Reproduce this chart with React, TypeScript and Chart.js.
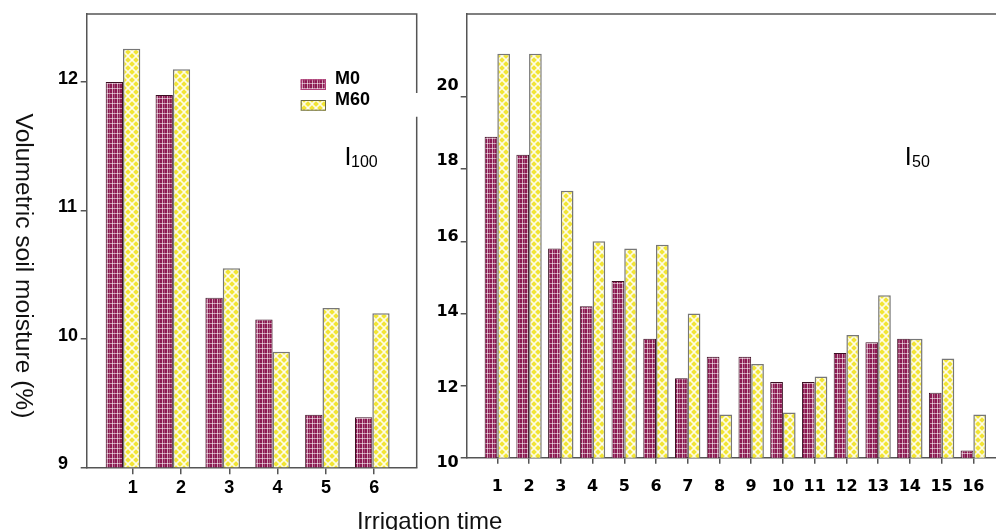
import React, { useEffect, useRef } from 'react';
import { Chart, registerables } from 'chart.js';

Chart.register(...registerables);

// ---- data ----
const irrigationI100 = [1, 2, 3, 4, 5, 6];
const m0I100 = [12.0, 11.9, 10.32, 10.15, 9.41, 9.39];
const m60I100 = [12.26, 12.1, 10.55, 9.9, 10.24, 10.2];
const yTicksI100 = [9, 10, 11, 12];

const irrigationI50 = [1, 2, 3, 4, 5, 6, 7, 8, 9, 10, 11, 12, 13, 14, 15, 16];
const m0I50 = [18.9, 18.4, 15.8, 14.2, 14.9, 13.3, 12.2, 12.8, 12.8, 12.1, 12.1, 12.9, 13.2, 13.3, 11.8, 10.2];
const m60I50 = [21.2, 21.2, 17.4, 16.0, 15.8, 15.9, 14.0, 11.2, 12.6, 11.25, 12.25, 13.4, 14.5, 13.3, 12.75, 11.2];
const yTicksI50 = [10, 12, 14, 16, 18, 20];

const seriesNames = ['M0', 'M60'];
const panelI100 = ['I', '100'];
const panelI50 = ['I', '50'];
const yTitle = 'Volumetric soil moisture (%)';
const xTitle = 'Irrigation time';

const AXIS = '#555555';
const SANS = '"Liberation Sans", Arial, sans-serif';
const DEJA = '"DejaVu Sans", sans-serif';

function makeM0Pattern(): CanvasPattern | string {
  const c = document.createElement('canvas');
  c.width = 5;
  c.height = 5;
  const g = c.getContext('2d');
  if (!g) return '#9b2a62';
  g.fillStyle = '#8c1a52';
  g.fillRect(0, 0, 5, 5);
  g.fillStyle = 'rgba(255,255,255,0.6)';
  g.fillRect(2, 0, 1, 5);
  g.fillStyle = 'rgba(255,255,255,0.55)';
  g.fillRect(0, 3, 5, 1);
  g.fillStyle = 'rgba(255,255,255,0.25)';
  g.fillRect(4, 0, 1, 5);
  return g.createPattern(c, 'repeat') || '#9b2a62';
}

function makeM60Pattern(): CanvasPattern | string {
  const c = document.createElement('canvas');
  c.width = 8;
  c.height = 8;
  const g = c.getContext('2d');
  if (!g) return '#f4ee80';
  g.fillStyle = '#f2e534';
  g.fillRect(0, 0, 8, 8);
  g.strokeStyle = 'rgba(255,255,255,0.85)';
  g.lineWidth = 1.6;
  for (const o of [-8, 0, 8]) {
    g.beginPath();
    g.moveTo(o, 0);
    g.lineTo(o + 8, 8);
    g.stroke();
    g.beginPath();
    g.moveTo(o + 8, 0);
    g.lineTo(o, 8);
    g.stroke();
  }
  return g.createPattern(c, 'repeat') || '#f4ee80';
}

function drawPanelLabel(ctx: CanvasRenderingContext2D, parts: string[], x: number, subX: number) {
  ctx.save();
  ctx.fillStyle = '#000';
  ctx.textAlign = 'left';
  ctx.textBaseline = 'alphabetic';
  ctx.font = `25px ${SANS}`;
  ctx.fillText(parts[0], x, 165);
  ctx.font = `16px ${SANS}`;
  ctx.fillText(parts[1], subX, 166.5);
  ctx.restore();
}

export default function App() {
  const leftRef = useRef<HTMLCanvasElement>(null);
  const rightRef = useRef<HTMLCanvasElement>(null);

  useEffect(() => {
    if (!leftRef.current || !rightRef.current) return;
    const m0Fill = makeM0Pattern();
    const m60Fill = makeM60Pattern();

    const gridOpts = (len: number) => ({
      display: true,
      drawOnChartArea: false,
      drawTicks: true,
      offset: false,
      tickLength: len,
      color: AXIS,
      lineWidth: 1.5,
    });
    const borderOpts = { display: true, color: AXIS, width: 1.5 };

    const leftDecor = {
      id: 'leftDecor',
      afterDraw(chart: any) {
        const { ctx, chartArea } = chart;
        ctx.save();
        ctx.strokeStyle = AXIS;
        ctx.lineWidth = 1.5;
        ctx.beginPath();
        ctx.moveTo(chartArea.left, chartArea.top);
        ctx.lineTo(chartArea.right, chartArea.top);
        ctx.lineTo(chartArea.right, 93);
        ctx.moveTo(chartArea.right, 116.7);
        ctx.lineTo(chartArea.right, chartArea.bottom);
        ctx.stroke();
        chart.data.datasets.forEach((d: any, i: number) => {
          const bx = 300.7;
          const by = 79.3 + i * 20.7;
          ctx.fillStyle = d.backgroundColor;
          ctx.fillRect(bx, by, 25.3, 10.7);
          ctx.strokeStyle = i === 0 ? '#b0407a' : '#6a6a40';
          ctx.lineWidth = 1;
          ctx.strokeRect(bx + 0.5, by + 0.5, 24.3, 9.7);
          ctx.fillStyle = '#000';
          ctx.font = `bold 18px ${SANS}`;
          ctx.textAlign = 'left';
          ctx.textBaseline = 'alphabetic';
          ctx.fillText(d.label, 335, by + 5);
        });
        ctx.translate(16, 266);
        ctx.rotate(Math.PI / 2);
        ctx.fillStyle = '#111';
        ctx.font = `24.6px ${SANS}`;
        ctx.textAlign = 'center';
        ctx.textBaseline = 'alphabetic';
        ctx.fillText(yTitle, 0, 0);
        ctx.restore();
        drawPanelLabel(ctx, panelI100, 344.4, 351);
      },
    };

    const rightDecor = {
      id: 'rightDecor',
      afterDraw(chart: any) {
        const { ctx, chartArea } = chart;
        ctx.save();
        ctx.strokeStyle = AXIS;
        ctx.lineWidth = 1.5;
        ctx.beginPath();
        ctx.moveTo(chartArea.left, chartArea.top);
        ctx.lineTo(chartArea.right, chartArea.top);
        ctx.stroke();
        ctx.restore();
        drawPanelLabel(ctx, panelI50, 474.7, 482);
      },
    };

    const barStyle = (i: number) =>
      i === 0
        ? { backgroundColor: m0Fill, borderColor: '#3a0f22', borderWidth: 1 }
        : { backgroundColor: m60Fill, borderColor: '#777777', borderWidth: 1.5 };

    const left = new Chart(leftRef.current, {
      type: 'bar',
      data: {
        datasets: [m0I100, m60I100].map((vals, i) => ({
          label: seriesNames[i],
          data: irrigationI100.map((t, k) => ({ x: t, y: vals[k] })),
          xAxisID: 'x',
          yAxisID: 'y',
          categoryPercentage: 0.78,
          barPercentage: 1,
          ...barStyle(i),
        })),
      },
      options: {
        responsive: false,
        animation: false,
        events: [],
        layout: { padding: { left: 58, top: 14, right: 23.3, bottom: 0 } },
        plugins: { legend: { display: false }, tooltip: { enabled: false } },
        scales: {
          x: { type: 'linear', display: false, offset: false, min: 0.272, max: 6.89, grid: { offset: false } },
          x2: {
            type: 'linear',
            position: 'bottom',
            offset: false,
            min: 0.048,
            max: 6.88,
            afterBuildTicks: (s: any) => {
              s.ticks = irrigationI100.map((v) => ({ value: v }));
            },
            afterFit: (s: any) => {
              s.height = 62.7;
            },
            grid: gridOpts(7),
            border: borderOpts,
            ticks: {
              color: '#000',
              font: { family: SANS, weight: 'bold', size: 18 },
              padding: 3,
              maxRotation: 0,
              autoSkip: false,
            },
          },
          y: {
            type: 'linear',
            min: 9,
            max: 12.53,
            afterBuildTicks: (s: any) => {
              s.ticks = yTicksI100.map((v) => ({ value: v }));
            },
            afterFit: (s: any) => {
              s.width = 28.7;
            },
            grid: gridOpts(6),
            border: borderOpts,
            ticks: {
              color: '#000',
              font: { family: SANS, weight: 'bold', size: 18 },
              crossAlign: 'far',
              labelOffset: -3,
              padding: 1,
            },
          },
        },
      },
      plugins: [leftDecor],
    } as any);

    const right = new Chart(rightRef.current, {
      type: 'bar',
      data: {
        datasets: [m0I50, m60I50].map((vals, i) => ({
          label: seriesNames[i],
          data: irrigationI50.map((t, k) => ({ x: t, y: vals[k] })),
          xAxisID: 'x',
          yAxisID: 'y',
          categoryPercentage: 0.8,
          barPercentage: 1,
          ...barStyle(i),
        })),
      },
      options: {
        responsive: false,
        animation: false,
        events: [],
        layout: { padding: { left: 0, top: 14, right: 4, bottom: 0 } },
        plugins: { legend: { display: false }, tooltip: { enabled: false } },
        scales: {
          x: {
            type: 'linear',
            position: 'bottom',
            offset: false,
            min: 0.035,
            max: 17.03,
            afterBuildTicks: (s: any) => {
              s.ticks = irrigationI50.map((v) => ({ value: v }));
            },
            afterFit: (s: any) => {
              s.height = 72.3;
            },
            grid: gridOpts(6),
            border: borderOpts,
            ticks: {
              color: '#000',
              font: { family: DEJA, weight: 'bold', size: 16 },
              padding: 13.5,
              maxRotation: 0,
              autoSkip: false,
            },
          },
          // tick marks (and the axis line) of the value axis
          y: {
            type: 'linear',
            position: 'left',
            weight: 0,
            min: 10,
            max: 22.3,
            afterBuildTicks: (s: any) => {
              s.ticks = yTicksI50.map((v) => ({ value: v }));
            },
            afterFit: (s: any) => {
              s.width = 6;
            },
            grid: gridOpts(6),
            border: borderOpts,
            ticks: { display: false },
          },
          // tick labels of the value axis (printed on a slightly different scale)
          y2: {
            type: 'linear',
            position: 'left',
            weight: 1,
            min: 10.14,
            max: 21.9,
            afterBuildTicks: (s: any) => {
              s.ticks = yTicksI50.map((v) => ({ value: v }));
            },
            afterFit: (s: any) => {
              s.width = 30.7;
            },
            grid: { display: false, drawTicks: false, drawOnChartArea: false },
            border: { display: false },
            ticks: {
              color: '#000',
              font: { family: DEJA, weight: 'bold', size: 16 },
              padding: 2,
            },
          },
        },
      },
      plugins: [rightDecor],
    } as any);

    return () => {
      left.destroy();
      right.destroy();
    };
  }, []);

  return (
    <div
      style={{
        position: 'fixed',
        left: 0,
        top: 0,
        width: 996,
        height: 530,
        overflow: 'hidden',
        background: '#ffffff',
      }}
    >
      <canvas
        ref={leftRef}
        width={440}
        height={530}
        style={{ position: 'absolute', left: 0, top: 0, width: 440, height: 530 }}
      />
      <canvas
        ref={rightRef}
        width={580}
        height={530}
        style={{ position: 'absolute', left: 430, top: 0, width: 580, height: 530 }}
      />
      <div
        style={{
          position: 'absolute',
          left: 357,
          top: 508.7,
          fontFamily: SANS,
          fontSize: 24,
          lineHeight: '24px',
          color: '#111',
          whiteSpace: 'nowrap',
        }}
      >
        {xTitle}
      </div>
    </div>
  );
}
